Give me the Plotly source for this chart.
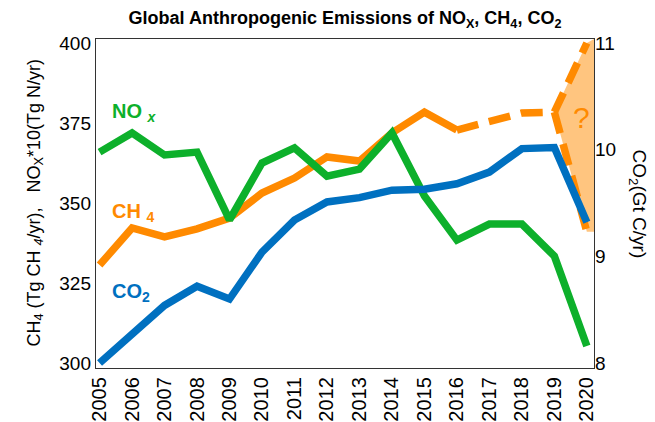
import plotly.graph_objects as go

# ---------------- data ----------------
years = [2005, 2006, 2007, 2008, 2009, 2010, 2011, 2012,
         2013, 2014, 2015, 2016, 2017, 2018, 2019, 2020]
nox_x10 = [365.9, 371.9, 365.0, 365.9, 344.7, 362.5, 367.2, 358.4,
           360.6, 371.9, 352.2, 338.4, 343.4, 343.4, 333.4, 305.3]
ch4_years = [2005, 2006, 2007, 2008, 2009, 2010, 2011, 2012,
             2013, 2014, 2015, 2016]
ch4 = [330.6, 342.2, 339.4, 341.9, 345.3, 353.1, 357.8, 364.4,
       363.1, 371.9, 378.4, 372.8]
ch4_proj_years = [2016, 2017, 2018, 2019, 2020]
ch4_proj_high = [372.8, 375.3, 378.1, 378.4, 400.0]
ch4_low_years = [2019, 2020]
ch4_proj_low = [378.4, 341.0]
co2 = [8.00, 8.28, 8.54, 8.72, 8.60, 9.04, 9.34, 9.51,
       9.55, 9.62, 9.63, 9.68, 9.79, 10.01, 10.02, 9.32]

left_ticks = [300, 325, 350, 375, 400]
right_ticks = [8, 9, 10, 11]
x_ticks = years

GREEN = "#0DB02B"
ORANGE = "#FF8A00"
BLUE = "#0070C0"
FONT = "Liberation Sans, Arial, sans-serif"

x_range = [2004.89, 2020.22]
y_range = [298.44, 401.25]
y2_range = [8 + (y_range[0] - 300) * 0.03, 8 + (y_range[1] - 300) * 0.03]

fig = go.Figure()

# CO2 (right axis)
fig.add_trace(go.Scatter(x=years, y=co2, yaxis="y2", mode="lines",
                         line=dict(color=BLUE, width=7.5), hoverinfo="skip"))

# uncertainty fill between the two CH4 projections
fx = [ch4_proj_years[-2], ch4_proj_years[-1], x_range[1], x_range[1],
      ch4_low_years[-1], ch4_low_years[0]]
fy = [ch4_proj_high[-2], ch4_proj_high[-1], y_range[1], ch4_proj_low[-1],
      ch4_proj_low[-1], ch4_proj_low[0]]
fig.add_trace(go.Scatter(x=fx, y=fy, mode="lines", fill="toself",
                         fillcolor="rgba(255,140,0,0.5)",
                         line=dict(width=0), hoverinfo="skip"))

# CH4
fig.add_trace(go.Scatter(x=ch4_years, y=ch4, mode="lines",
                         line=dict(color=ORANGE, width=7.5), hoverinfo="skip"))
fig.add_trace(go.Scatter(x=ch4_proj_years, y=ch4_proj_high, mode="lines",
                         line=dict(color=ORANGE, width=7.5, dash="22px,11px"),
                         hoverinfo="skip"))
fig.add_trace(go.Scatter(x=ch4_low_years, y=ch4_proj_low, mode="lines",
                         line=dict(color=ORANGE, width=7.5, dash="22px,11px"),
                         hoverinfo="skip"))

# NOx
fig.add_trace(go.Scatter(x=years, y=nox_x10, mode="lines",
                         line=dict(color=GREEN, width=7.5), hoverinfo="skip"))

annots = [
    dict(x=2005.32, y=378.4, text="<b>NO <sub><i>x</i></sub></b>",
         font=dict(color=GREEN, size=20)),
    dict(x=2005.32, y=346.9, text="<b>CH <sub>4</sub></b>",
         font=dict(color=ORANGE, size=20)),
    dict(x=2005.32, y=321.9, text="<b>CO<sub>2</sub></b>",
         font=dict(color=BLUE, size=20)),
]
for a in annots:
    fig.add_annotation(xref="x", yref="y", xanchor="left", yanchor="middle",
                       showarrow=False, **a)

fig.add_annotation(x=2019.85, y=376.6, xref="x", yref="y", text="?",
                   showarrow=False, font=dict(color=ORANGE, size=30),
                   xanchor="center", yanchor="middle")

# axis titles
fig.add_annotation(xref="paper", yref="paper", x=0, xshift=-61, y=0.5,
                   text="CH<sub>4</sub> (Tg CH <sub><i>4</i></sub>/yr),   NO<sub>X</sub>*10(Tg N/yr)",
                   textangle=-90, showarrow=False, font=dict(size=18, color="black"),
                   xanchor="center", yanchor="middle")
fig.add_annotation(xref="paper", yref="paper", x=1, xshift=44, y=0.5,
                   text="CO<sub>2</sub>(Gt C/yr)",
                   textangle=90, showarrow=False, font=dict(size=19, color="black"),
                   xanchor="center", yanchor="middle")

fig.update_layout(
    width=655, height=422,
    margin=dict(l=96, r=61, t=39, b=54),
    paper_bgcolor="white", plot_bgcolor="white",
    showlegend=False,
    font=dict(family=FONT, color="black"),
    title=dict(text="<b>Global Anthropogenic Emissions of NO<sub>X</sub>, CH<sub>4</sub>, CO<sub>2</sub></b>",
               x=0.5, xref="paper", xanchor="center",
               y=1 - 18 / 422, yanchor="middle",
               font=dict(size=18, color="black")),
    xaxis=dict(range=x_range, tickvals=x_ticks, ticktext=[str(v) for v in x_ticks],
               tickangle=-90, tickfont=dict(size=20), showgrid=False, zeroline=False,
               showline=True, linecolor="#333", linewidth=1.2, mirror=True, ticks="",
               automargin=False),
    yaxis=dict(range=y_range, tickvals=left_ticks, tickfont=dict(size=19),
               showgrid=False, zeroline=False, showline=True, linecolor="#333",
               linewidth=1.2, mirror=True, ticks="", automargin=False),
    yaxis2=dict(range=y2_range, tickvals=right_ticks, overlaying="y", side="right",
                tickfont=dict(size=19), showgrid=False, zeroline=False,
                showline=False, ticks="", automargin=False),
)

fig.write_html("out.html",
               config={"displayModeBar": False, "staticPlot": True},
               post_script="document.body.style.margin='0';document.body.style.overflow='hidden';")
